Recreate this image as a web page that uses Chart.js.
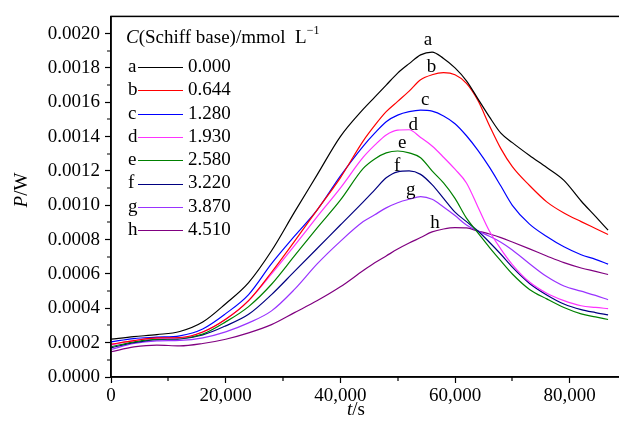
<!DOCTYPE html>
<html lang="en">
<head>
<meta charset="utf-8">
<title>P vs t</title>
<script src="https://cdn.jsdelivr.net/npm/chart.js@4.4.1/dist/chart.umd.min.js"></script>
<style>
  html, body { margin: 0; padding: 0; background: #fff; overflow: hidden; }
  #wrap { width: 619px; height: 433px; overflow: hidden; }
</style>
</head>
<body>
<div id="wrap"><canvas id="cv" width="640" height="433"></canvas></div>
<script>
// time grid (s)
const tSec = [0, 4000, 8000, 12000, 16000, 20000, 24000, 28000, 32000, 36000, 40000,
  44000, 46000, 48000, 50000, 52000, 54000, 56000, 58000, 60000, 62000, 64000, 66000,
  68000, 70000, 73000, 76000, 79000, 82000, 84500, 86700];

// heat flow P (W) per Schiff base concentration
const pA = [0.000220, 0.000235, 0.000247, 0.000265, 0.000320, 0.000427, 0.000550, 0.000735, 0.000960, 0.001180, 0.001400,
  0.001560, 0.001630, 0.001700, 0.001770, 0.001825, 0.001876, 0.001892, 0.001855, 0.001800, 0.001725, 0.001620, 0.001515,
  0.001420, 0.001365, 0.001290, 0.001220, 0.001145, 0.001025, 0.000935, 0.000855];
const pB = [0.000191, 0.000212, 0.000228, 0.000230, 0.000262, 0.000336, 0.000445, 0.000610, 0.000790, 0.000975, 0.001160,
  0.001375, 0.001465, 0.001545, 0.001605, 0.001665, 0.001731, 0.001760, 0.001772, 0.001760, 0.001710, 0.001610, 0.001465,
  0.001330, 0.001225, 0.001115, 0.001020, 0.000955, 0.000905, 0.000865, 0.000830];
const pC = [0.000205, 0.000224, 0.000232, 0.000240, 0.000280, 0.000369, 0.000480, 0.000660, 0.000820, 0.000975, 0.001170,
  0.001345, 0.001420, 0.001487, 0.001525, 0.001545, 0.001554, 0.001548, 0.001520, 0.001475, 0.001405, 0.001320, 0.001222,
  0.001112, 0.001000, 0.000890, 0.000818, 0.000758, 0.000712, 0.000685, 0.000657];
const pD = [0.000187, 0.000212, 0.000226, 0.000228, 0.000262, 0.000336, 0.000445, 0.000600, 0.000765, 0.000935, 0.001100,
  0.001280, 0.001350, 0.001410, 0.001438, 0.001440, 0.001395, 0.001345, 0.001280, 0.001210, 0.001130, 0.000990, 0.000850,
  0.000745, 0.000655, 0.000553, 0.000488, 0.000445, 0.000415, 0.000405, 0.000398];
const pE = [0.000176, 0.000205, 0.000220, 0.000225, 0.000250, 0.000321, 0.000410, 0.000540, 0.000705, 0.000870, 0.001030,
  0.001215, 0.001270, 0.001305, 0.001316, 0.001305, 0.001277, 0.001200, 0.001130, 0.001040, 0.000925, 0.000840, 0.000755,
  0.000676, 0.000600, 0.000510, 0.000455, 0.000405, 0.000368, 0.000350, 0.000335];
const pF = [0.000170, 0.000200, 0.000218, 0.000222, 0.000245, 0.000298, 0.000365, 0.000480, 0.000615, 0.000750, 0.000885,
  0.001020, 0.001090, 0.001160, 0.001195, 0.001200, 0.001180, 0.001120, 0.001040, 0.000960, 0.000905, 0.000850, 0.000785,
  0.000715, 0.000640, 0.000545, 0.000478, 0.000425, 0.000392, 0.000375, 0.000362];
const pG = [0.000160, 0.000195, 0.000210, 0.000213, 0.000228, 0.000263, 0.000315, 0.000385, 0.000510, 0.000660, 0.000790,
  0.000905, 0.000945, 0.000985, 0.001015, 0.001035, 0.001050, 0.001035, 0.000990, 0.000940, 0.000885, 0.000850, 0.000820,
  0.000785, 0.000740, 0.000660, 0.000585, 0.000530, 0.000500, 0.000475, 0.000450];
const pH = [0.000147, 0.000175, 0.000186, 0.000181, 0.000195, 0.000220, 0.000257, 0.000305, 0.000375, 0.000445, 0.000525,
  0.000620, 0.000665, 0.000705, 0.000745, 0.000780, 0.000812, 0.000845, 0.000862, 0.000870, 0.000868, 0.000850, 0.000833,
  0.000812, 0.000786, 0.000746, 0.000705, 0.000666, 0.000635, 0.000615, 0.000597];

const letters = ['a', 'b', 'c', 'd', 'e', 'f', 'g', 'h'];
const concs = ['0.000', '0.644', '1.280', '1.930', '2.580', '3.220', '3.870', '4.510'];
// where each curve letter sits [t, P]
const letterAt = [[55300, 0.001965], [55900, 0.001803], [54800, 0.001612], [52700, 0.001467],
  [50800, 0.001364], [49900, 0.001229], [52300, 0.001090], [56500, 0.000899]];

const xTicks = [0, 20000, 40000, 60000, 80000];
const yTicks = [0, 0.0002, 0.0004, 0.0006, 0.0008, 0.0010, 0.0012, 0.0014, 0.0016, 0.0018, 0.0020];

const allP = [pA, pB, pC, pD, pE, pF, pG, pH];
const colors = ['#000000', '#ff0000', '#0000ff', '#ff33ff', '#008000', '#000080', '#9933ff', '#800080'];

const serif = '"Liberation Serif", "Times New Roman", serif';

const extras = {
  id: 'extras',
  afterDraw(chart) {
    const { ctx, chartArea: a, scales: { x, y } } = chart;
    ctx.save();
    ctx.strokeStyle = '#000';
    ctx.lineWidth = 1.5;
    ctx.strokeRect(a.left, a.top, a.right - a.left, a.bottom - a.top);

    // minor ticks
    ctx.lineWidth = 1.2;
    ctx.beginPath();
    for (let t = 10000; t < 90000; t += 20000) {
      const px = Math.round(x.getPixelForValue(t));
      ctx.moveTo(px, a.bottom); ctx.lineTo(px, a.bottom + 4);
    }
    for (let k = 1; k < 21; k += 2) {
      const py = Math.round(y.getPixelForValue(k * 0.0001));
      ctx.moveTo(a.left, py); ctx.lineTo(a.left - 4, py);
    }
    ctx.stroke();

    ctx.fillStyle = '#000';
    ctx.textBaseline = 'middle';

    // curve letters
    ctx.font = '19px ' + serif;
    ctx.textAlign = 'center';
    letters.forEach((l, i) => {
      ctx.fillText(l, x.getPixelForValue(letterAt[i][0]), y.getPixelForValue(letterAt[i][1]));
    });

    // axis titles
    ctx.textAlign = 'left';
    const it = 'italic 19px ' + serif, rg = '19px ' + serif;
    function mixed(parts, cx, cy) {
      let w = 0;
      parts.forEach(p => { ctx.font = p[1]; w += ctx.measureText(p[0]).width; });
      let px = cx - w / 2;
      parts.forEach(p => { ctx.font = p[1]; ctx.fillText(p[0], px, cy); px += ctx.measureText(p[0]).width; });
    }
    mixed([['t', it], ['/s', rg]], 356, 410);
    ctx.save();
    ctx.translate(22, 190);
    ctx.rotate(-Math.PI / 2);
    mixed([['P', it], ['/W', rg]], 0, 0);
    ctx.restore();

    // legend
    let lx = 126;
    ctx.font = it;
    ctx.fillText('C', lx, 38);
    lx += ctx.measureText('C').width;
    ctx.font = rg;
    ctx.fillText('(Schiff base)/mmol  L', lx, 38);
    lx += ctx.measureText('(Schiff base)/mmol  L').width;
    ctx.font = '12px ' + serif;
    ctx.fillText('\u22121', lx, 31);

    ctx.font = rg;
    letters.forEach((l, i) => {
      const ly = 67 + i * 23.3;
      ctx.fillText(l, 128, ly);
      ctx.strokeStyle = colors[i];
      ctx.lineWidth = 1.2;
      ctx.beginPath();
      ctx.moveTo(138, Math.round(ly) + 0.5); ctx.lineTo(183, Math.round(ly) + 0.5);
      ctx.stroke();
      ctx.fillText(concs[i], 188, ly);
    });
    ctx.restore();
  }
};

new Chart(document.getElementById('cv'), {
  type: 'line',
  data: {
    datasets: allP.map((p, i) => ({
      label: letters[i],
      data: p.map((v, k) => ({ x: tSec[k], y: v })),
      borderColor: colors[i],
      borderWidth: 1.2,
      pointRadius: 0,
      cubicInterpolationMode: 'monotone',
      fill: false
    }))
  },
  options: {
    responsive: false,
    animation: false,
    layout: { padding: { top: 14, right: 13, left: 0, bottom: 0 } },
    plugins: { legend: { display: false }, tooltip: { enabled: false } },
    scales: {
      x: {
        type: 'linear',
        min: 0,
        max: 90000,
        afterBuildTicks: s => { s.ticks = xTicks.map(v => ({ value: v })); },
        afterFit: s => { s.height = 56; },
        ticks: {
          color: '#000',
          padding: 2,
          maxRotation: 0,
          font: { family: serif, size: 19 },
          callback: v => v.toLocaleString('en-US')
        },
        grid: { drawOnChartArea: false, drawTicks: true, tickLength: 6, tickColor: '#000', tickWidth: 1.2 },
        border: { display: true, color: '#000', width: 1.5 }
      },
      y: {
        min: 0,
        max: 0.0021,
        afterBuildTicks: s => { s.ticks = yTicks.map(v => ({ value: v })); },
        afterFit: s => { s.width = 111; },
        ticks: {
          color: '#000',
          padding: 5,
          font: { family: serif, size: 19 },
          callback: v => v.toFixed(4)
        },
        grid: { drawOnChartArea: false, drawTicks: true, tickLength: 6, tickColor: '#000', tickWidth: 1.2 },
        border: { display: true, color: '#000', width: 1.5 }
      }
    }
  },
  plugins: [extras]
});
</script>
</body>
</html>
